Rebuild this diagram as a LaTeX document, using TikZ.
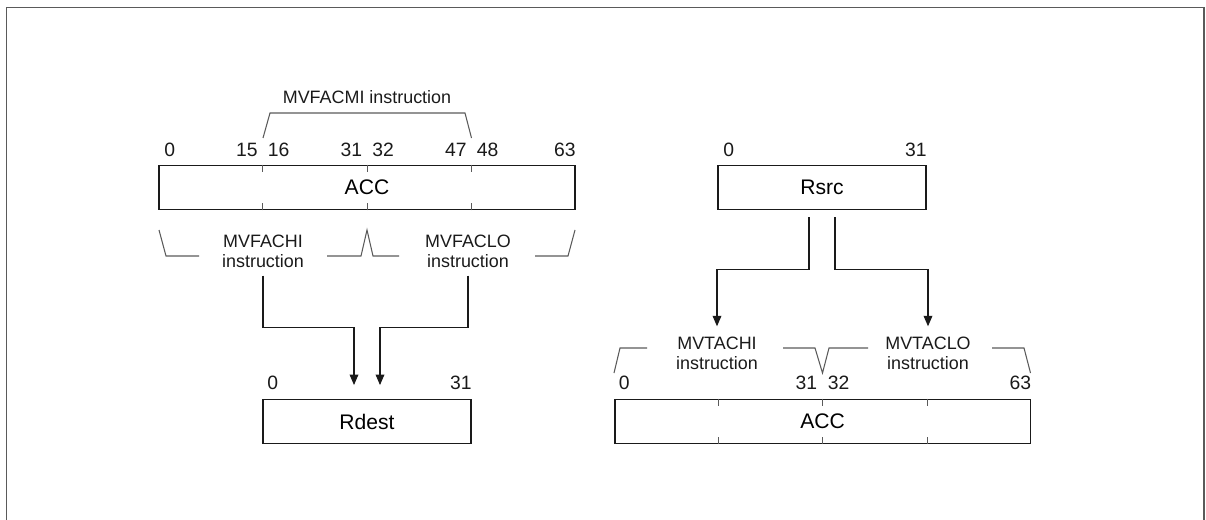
\documentclass[tikz,border=0pt]{standalone}
\usepackage{fontspec}
\setmainfont{Liberation Sans}
\usetikzlibrary{positioning,arrows.meta,calc}
\definecolor{ink}{HTML}{1A1A1A}
\definecolor{rule}{HTML}{5A5A5A}
\newcommand{\namefont}{\fontsize{12}{14}\selectfont}
\newcommand{\bitfont}{\fontsize{11}{13}\selectfont}
\newcommand{\insfont}{\fontsize{10.2}{11.4}\selectfont}
\tikzset{
  reg/.style={draw=ink, line width=1.1pt, minimum height=0.88cm, inner sep=0pt, font=\namefont},
  bit/.style={inner sep=0pt, text=ink, font=\bitfont},
  instr/.style={align=center, inner sep=0pt, text=ink, font=\insfont},
  tick/.style={draw=rule, line width=0.5pt},
  brack/.style={draw=rule, line width=0.6pt},
  flow/.style={-{Triangle[length=6pt,width=5pt]}, line width=0.6pt, draw=ink}
}

\begin{document}
\begin{tikzpicture}[x=0.02cm, y=-0.02cm]
\useasboundingbox (0,0) rectangle (1206,520);
\draw[rule, line width=1pt] (6.5,520) -- (6.5,7.5) -- (1204,7.5) -- (1204,520);

% registers
\node[reg, minimum width=8.32cm] (accf) at (367,187.5) {ACC};
\node[reg, minimum width=4.16cm] (rdest) at (367,421.5) {Rdest};
\node[reg, minimum width=4.16cm] (rsrc) at (822,187.5) {Rsrc};
\node[reg, minimum width=8.32cm] (acct) at (822.5,421.5) {ACC};

% quarter ticks on the accumulators
\foreach \f/\n in {0.25/1,0.5/2,0.75/3} {
  \coordinate (accf\n) at ($(accf.north west)!\f!(accf.north east)$);
  \coordinate (acct\n) at ($(acct.north west)!\f!(acct.north east)$);
  \draw[tick] (accf\n) -- ++(0,7);
  \draw[tick] ($(accf.south west)!\f!(accf.south east)$) -- ++(0,-7);
  \draw[tick] (acct\n) -- ++(0,7);
  \draw[tick] ($(acct.south west)!\f!(acct.south east)$) -- ++(0,-7);
}

% bit numbers
\node[bit, anchor=base west] (f0) at ([shift={(6,-8.5)}]accf.north west) {0};
\node[bit, anchor=base east] (f15) at ([shift={(-4.5,-8.5)}]accf1) {15};
\node[bit, anchor=base west] (f16) at ([shift={(5,-8.5)}]accf1) {16};
\node[bit, anchor=base east] (f31) at ([shift={(-4.5,-8.5)}]accf2) {31};
\node[bit, anchor=base west] (f32) at ([shift={(5,-8.5)}]accf2) {32};
\node[bit, anchor=base east] (f47) at ([shift={(-4.5,-8.5)}]accf3) {47};
\node[bit, anchor=base west] (f48) at ([shift={(5,-8.5)}]accf3) {48};
\node[bit, anchor=base east] (f63) at ([shift={(0,-8.5)}]accf.north east) {63};

\node[bit, anchor=base west] (d0) at ([shift={(5,-9)}]rdest.north west) {0};
\node[bit, anchor=base east] (d31) at ([shift={(0,-9)}]rdest.north east) {31};
\node[bit, anchor=base west] (s0) at ([shift={(6,-8.5)}]rsrc.north west) {0};
\node[bit, anchor=base east] (s31) at ([shift={(0,-8.5)}]rsrc.north east) {31};

\node[bit, anchor=base west] (t0) at ([shift={(5,-9)}]acct.north west) {0};
\node[bit, anchor=base east] (t31) at ([shift={(-5,-9)}]acct2) {31};
\node[bit, anchor=base west] (t32) at ([shift={(5,-9)}]acct2) {32};
\node[bit, anchor=base east] (t63) at ([shift={(0,-9)}]acct.north east) {63};

% instruction labels
\node[instr, anchor=base] (fmi) at (367,103.3) {MVFACMI instruction};
\node[instr] (fhi) at (263,251) {MVFACHI\\instruction};
\node[instr] (flo) at (468,251) {MVFACLO\\instruction};
\node[instr] (thi) at (717,353) {MVTACHI\\instruction};
\node[instr] (tlo) at (928,353) {MVTACLO\\instruction};

% brackets
\draw[brack] (263,138) -- (270,113) -- (465,113) -- (471.5,138);
\draw[brack] (159,230) -- (166,256) -- (199,256);
\draw[brack] (327,256) -- (361,256) -- (367,230) -- (373,256) -- (399,256);
\draw[brack] (535,256) -- (568,256) -- (575,230);
\draw[brack] (614,373) -- (620,348) -- (647,348);
\draw[brack] (783,348) -- (815,348) -- (822.5,373) -- (829,348) -- (868,348);
\draw[brack] (992,348) -- (1024,348) -- (1030.5,373);

% moves
\draw[flow, shorten <=0.16cm, shorten >=0.27cm] (fhi.south) -- ++(0,60) -| ([xshift=-0.26cm]rdest.north);
\draw[flow, shorten <=0.16cm, shorten >=0.27cm] (flo.south) -- ++(0,60) -| ([xshift=0.26cm]rdest.north);
\draw[flow, shorten <=0.14cm, shorten >=0.2cm] ([xshift=-0.26cm]rsrc.south) -- ++(0,59.5) -| (thi.north);
\draw[flow, shorten <=0.14cm, shorten >=0.2cm] ([xshift=0.26cm]rsrc.south) -- ++(0,59.5) -| (tlo.north);
\end{tikzpicture}
\end{document}
